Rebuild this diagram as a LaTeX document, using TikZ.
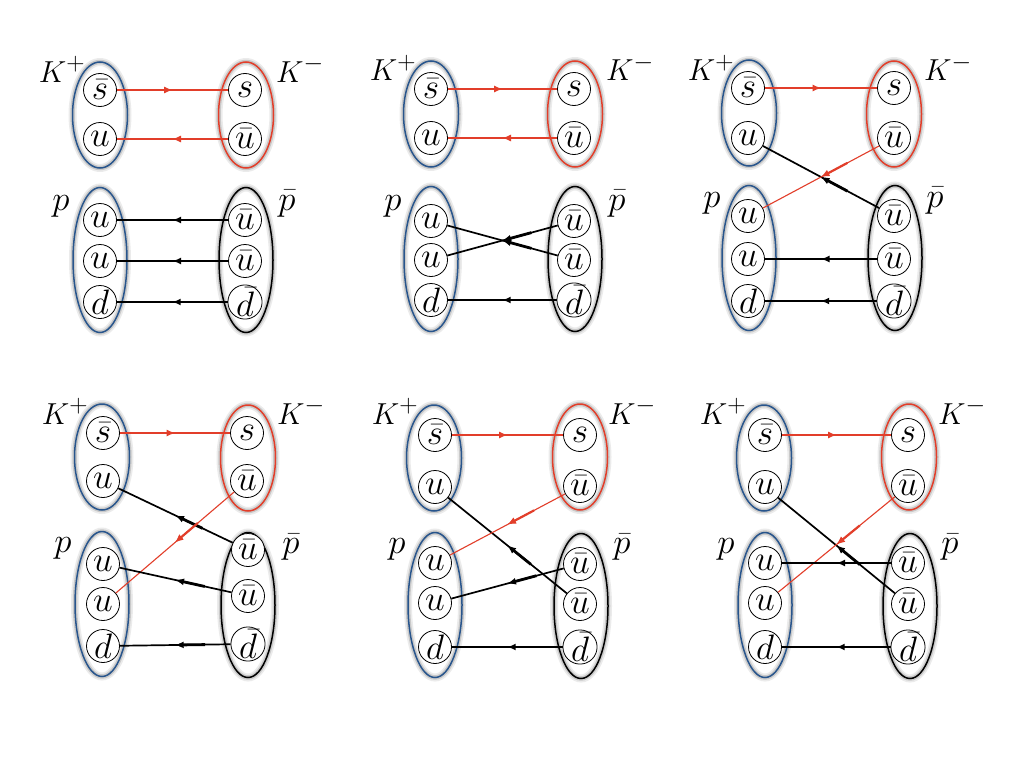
\documentclass[tikz,border=0pt]{standalone}
\usepackage{graphicx}
\usetikzlibrary{shapes.geometric,decorations.markings,arrows.meta}
\definecolor{hblue}{RGB}{40,85,140}
\definecolor{hred}{RGB}{226,62,42}
\newcommand\qq[1]{\scalebox{1.42}{$#1$}}
\newcommand\ql[1]{\scalebox{1.22}{$#1$}}
\newcommand\qp[1]{\scalebox{1.4}{$#1$}}
\tikzset{
 qk/.style={circle,draw,line width=0.8pt,fill=white,minimum size=33pt,inner sep=0pt,font=\Huge},
 had/.style={ellipse,draw=#1,line width=1.5pt,inner sep=0pt,
   preaction={draw=black,draw opacity=0.08,line width=8pt},
   preaction={draw=black,draw opacity=0.14,line width=4.5pt}},
 kbox/.style={had=#1,minimum width=55pt,minimum height=106pt},
 pbox/.style={had=#1,minimum width=54pt,minimum height=145pt},
 lbl/.style={anchor=base,inner sep=0pt,font=\Huge},
 ql/.style n args={3}{draw=#1,line width=#2,postaction={decorate},
   decoration={markings,mark=at position 0.5 with {\draw[#1,line width=#3] (-30pt,0pt)--(-4pt,0pt); \arrow[#1]{Latex[length=8.5pt,width=7pt]}}}},
 rl/.style={ql={hred}{1.1pt}{2.2pt}},
 bl/.style={ql={black}{1.7pt}{2.8pt}},
}
\begin{document}
\begin{tikzpicture}[x=1pt,y=-1pt]
\useasboundingbox[fill=white] (0,0) rectangle (1024,768);

% ---------- Panel 1 (top left)
\node[kbox=hblue] (aK1) at (100,115) {};
\node[kbox=hred] (aK2) at (246,115) {};
\node[pbox=hblue] (aP) at (100,260) {};
\node[pbox=black] (aQ) at (246,260) {};
\node[qk] (aAs) at (100,90) {\qq{\bar s}};
\node[qk] (aAu) at (100,139) {\qq{u}};
\node[qk] (aBs) at (245,90) {\qq{s}};
\node[qk] (aBu) at (245,139) {\qq{\bar u}};
\node[qk] (aP1) at (100,220) {\qq{u}};
\node[qk] (aP2) at (100,261) {\qq{u}};
\node[qk] (aP3) at (100,302) {\qq{d}};
\node[qk] (aQ1) at (245,220) {\qq{\bar u}};
\node[qk] (aQ2) at (245,261) {\qq{\bar u}};
\node[qk] (aQ3) at (245,302) {\qq{\bar d}};
\node[lbl] (aL1) at (62,82) {\ql{K^+}};
\node[lbl] (aL2) at (300,82) {\ql{K^-}};
\node[lbl] (aL3) at (61,210) {\qp{p}};
\node[lbl] (aL4) at (287,210) {\qp{\bar p}};
\draw[rl] (aAs) -- (aBs);
\draw[rl] (aBu) -- (aAu);
\draw[bl] (aQ1) -- (aP1);
\draw[bl] (aQ2) -- (aP2);
\draw[bl] (aQ3) -- (aP3);

% ---------- Panel 2 (top middle)
\node[kbox=hblue] (bK1) at (431,114) {};
\node[kbox=hred] (bK2) at (575,114) {};
\node[pbox=hblue] (bP) at (431,259) {};
\node[pbox=black] (bQ) at (575,259) {};
\node[qk] (bAs) at (431,89) {\qq{\bar s}};
\node[qk] (bAu) at (431,138) {\qq{u}};
\node[qk] (bBs) at (574,89) {\qq{s}};
\node[qk] (bBu) at (574,138) {\qq{\bar u}};
\node[qk] (bP1) at (431,221) {\qq{u}};
\node[qk] (bP2) at (431,260) {\qq{u}};
\node[qk] (bP3) at (431,300) {\qq{d}};
\node[qk] (bQ1) at (574,221) {\qq{\bar u}};
\node[qk] (bQ2) at (574,260) {\qq{\bar u}};
\node[qk] (bQ3) at (574,300) {\qq{\bar d}};
\node[lbl] (bL1) at (393,81) {\ql{K^+}};
\node[lbl] (bL2) at (630,81) {\ql{K^-}};
\node[lbl] (bL3) at (393,210) {\qp{p}};
\node[lbl] (bL4) at (617,210) {\qp{\bar p}};
\draw[rl] (bAs) -- (bBs);
\draw[rl] (bBu) -- (bAu);
\draw[bl] (bQ2) -- (bP1);
\draw[bl] (bQ1) -- (bP2);
\draw[bl] (bQ3) -- (bP3);

% ---------- Panel 3 (top right)
\node[kbox=hblue] (cK1) at (749,113) {};
\node[kbox=hred] (cK2) at (894,114) {};
\node[pbox=hblue] (cP) at (749,258) {};
\node[pbox=black] (cQ) at (895,258) {};
\node[qk] (cAs) at (748,88) {\qq{\bar s}};
\node[qk] (cAu) at (748,138) {\qq{u}};
\node[qk] (cBs) at (894,88) {\qq{s}};
\node[qk] (cBu) at (894,138) {\qq{\bar u}};
\node[qk] (cP1) at (748,216) {\qq{u}};
\node[qk] (cP2) at (748,259) {\qq{u}};
\node[qk] (cP3) at (748,301) {\qq{d}};
\node[qk] (cQ1) at (894,216) {\qq{\bar u}};
\node[qk] (cQ2) at (894,259) {\qq{\bar u}};
\node[qk] (cQ3) at (894,301) {\qq{\bar d}};
\node[lbl] (cL1) at (711,81) {\ql{K^+}};
\node[lbl] (cL2) at (948,81) {\ql{K^-}};
\node[lbl] (cL3) at (712,207) {\qp{p}};
\node[lbl] (cL4) at (935,207) {\qp{\bar p}};
\draw[rl] (cAs) -- (cBs);
\draw[bl] (cQ1) -- (cAu);
\draw[rl] (cBu) -- (cP1);
\draw[bl] (cQ2) -- (cP2);
\draw[bl] (cQ3) -- (cP3);

% ---------- Panel 4 (bottom left)
\node[kbox=hblue] (dK1) at (102,457) {};
\node[kbox=hred] (dK2) at (248,458) {};
\node[pbox=hblue] (dP) at (102,604) {};
\node[pbox=black] (dQ) at (248,605) {};
\node[qk] (dAs) at (103,433) {\qq{\bar s}};
\node[qk] (dAu) at (103,481) {\qq{u}};
\node[qk] (dBs) at (247,433) {\qq{s}};
\node[qk] (dBu) at (247,481) {\qq{\bar u}};
\node[qk] (dP1) at (103,564) {\qq{u}};
\node[qk] (dP2) at (103,604) {\qq{u}};
\node[qk] (dP3) at (103,646) {\qq{d}};
\node[qk] (dQ1) at (248,550) {\qq{\bar u}};
\node[qk] (dQ2) at (248,596) {\qq{\bar u}};
\node[qk] (dQ3) at (248,644) {\qq{\bar d}};
\node[lbl] (dL1) at (65,424) {\ql{K^+}};
\node[lbl] (dL2) at (301,424) {\ql{K^-}};
\node[lbl] (dL3) at (63,552) {\qp{p}};
\node[lbl] (dL4) at (291,553) {\qp{\bar p}};
\draw[rl] (dAs) -- (dBs);
\draw[bl] (dQ1) -- (dAu);
\draw[rl] (dBu) -- (dP2);
\draw[bl] (dQ2) -- (dP1);
\draw[bl] (dQ3) -- (dP3);

% ---------- Panel 5 (bottom middle)
\node[kbox=hblue] (eK1) at (434,458) {};
\node[kbox=hred] (eK2) at (580,457) {};
\node[pbox=hblue] (eP) at (435,605) {};
\node[pbox=black] (eQ) at (581,606) {};
\node[qk] (eAs) at (435,435) {\qq{\bar s}};
\node[qk] (eAu) at (435,487) {\qq{u}};
\node[qk] (eBs) at (580,435) {\qq{s}};
\node[qk] (eBu) at (580,486) {\qq{\bar u}};
\node[qk] (eP1) at (435,563) {\qq{u}};
\node[qk] (eP2) at (435,603) {\qq{u}};
\node[qk] (eP3) at (435,647) {\qq{d}};
\node[qk] (eQ1) at (580,564) {\qq{\bar u}};
\node[qk] (eQ2) at (580,604) {\qq{\bar u}};
\node[qk] (eQ3) at (580,647) {\qq{\bar d}};
\node[lbl] (eL1) at (395,424) {\ql{K^+}};
\node[lbl] (eL2) at (632,424) {\ql{K^-}};
\node[lbl] (eL3) at (397,553) {\qp{p}};
\node[lbl] (eL4) at (622,553) {\qp{\bar p}};
\draw[rl] (eAs) -- (eBs);
\draw[bl] (eQ2) -- (eAu);
\draw[rl] (eBu) -- (eP1);
\draw[bl] (eQ1) -- (eP2);
\draw[bl] (eQ3) -- (eP3);

% ---------- Panel 6 (bottom right)
\node[kbox=hblue] (fK1) at (764,458) {};
\node[kbox=hred] (fK2) at (909,457) {};
\node[pbox=hblue] (fP) at (765,605) {};
\node[pbox=black] (fQ) at (910,606) {};
\node[qk] (fAs) at (765,435) {\qq{\bar s}};
\node[qk] (fAu) at (765,487) {\qq{u}};
\node[qk] (fBs) at (908,435) {\qq{s}};
\node[qk] (fBu) at (908,486) {\qq{\bar u}};
\node[qk] (fP1) at (765,563) {\qq{u}};
\node[qk] (fP2) at (765,603) {\qq{u}};
\node[qk] (fP3) at (765,647) {\qq{d}};
\node[qk] (fQ1) at (908,563) {\qq{\bar u}};
\node[qk] (fQ2) at (908,604) {\qq{\bar u}};
\node[qk] (fQ3) at (908,647) {\qq{\bar d}};
\node[lbl] (fL1) at (723,424) {\ql{K^+}};
\node[lbl] (fL2) at (962,424) {\ql{K^-}};
\node[lbl] (fL3) at (726,553) {\qp{p}};
\node[lbl] (fL4) at (950,553) {\qp{\bar p}};
\draw[rl] (fAs) -- (fBs);
\draw[bl] (fQ2) -- (fAu);
\draw[rl] (fBu) -- (fP2);
\draw[bl] (fQ1) -- (fP1);
\draw[bl] (fQ3) -- (fP3);
\end{tikzpicture}
\end{document}
